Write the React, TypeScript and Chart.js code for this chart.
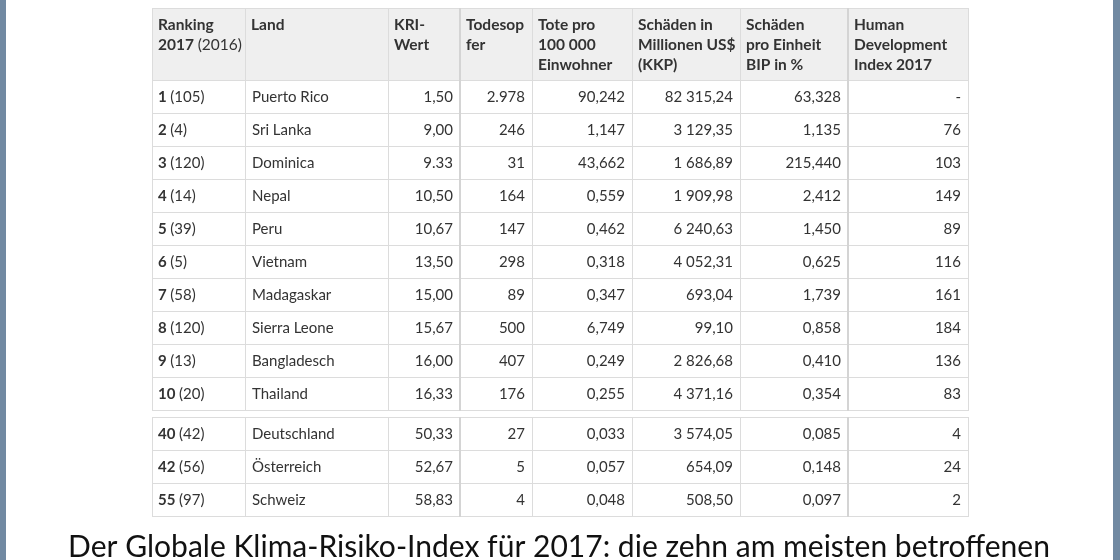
import React, { useEffect, useRef } from "react";
import { Chart, registerables } from "chart.js";

Chart.register(...registerables);

// ---------- data ----------
const headerLines: string[][] = [
  ["Ranking", "2017|(2016)"],
  ["Land"],
  ["KRI-", "Wert"],
  ["Todesop", "fer"],
  ["Tote pro", "100 000", "Einwohner"],
  ["Schäden in", "Millionen US$", "(KKP)"],
  ["Schäden", "pro Einheit", "BIP in %"],
  ["Human", "Development", "Index 2017"],
];
const ranks = [1, 2, 3, 4, 5, 6, 7, 8, 9, 10, 40, 42, 55];
const prevRanks = [105, 4, 120, 14, 39, 5, 58, 120, 13, 20, 42, 56, 97];
const countries = [
  "Puerto Rico", "Sri Lanka", "Dominica", "Nepal", "Peru", "Vietnam", "Madagaskar",
  "Sierra Leone", "Bangladesch", "Thailand", "Deutschland", "Österreich", "Schweiz",
];
const kriScore = ["1,50", "9,00", "9.33", "10,50", "10,67", "13,50", "15,00", "15,67", "16,00", "16,33", "50,33", "52,67", "58,83"];
const fatalities = ["2.978", "246", "31", "164", "147", "298", "89", "500", "407", "176", "27", "5", "4"];
const deathsPer100k = ["90,242", "1,147", "43,662", "0,559", "0,462", "0,318", "0,347", "6,749", "0,249", "0,255", "0,033", "0,057", "0,048"];
const lossesMioUSD = [
  "82 315,24", "3 129,35", "1 686,89", "1 909,98", "6 240,63", "4 052,31", "693,04",
  "99,10", "2 826,68", "4 371,16", "3 574,05", "654,09", "508,50",
];
const lossesPerGDP = ["63,328", "1,135", "215,440", "2,412", "1,450", "0,625", "1,739", "0,858", "0,410", "0,354", "0,085", "0,148", "0,097"];
const hdi2017 = ["-", "76", "103", "149", "89", "116", "161", "184", "136", "83", "4", "24", "2"];
const caption = "Der Globale Klima-Risiko-Index für 2017: die zehn am meisten betroffenen";

// ---------- layout (styles) ----------
const colWidths = [93, 143, 72, 72, 100, 108, 108, 120];
const rightAligned = [false, false, true, true, true, true, true, true];
const headerH = 72;
const rowH = 33;
const groupGap = 7;
const firstGroupRows = 10;
const FONT = "Lato, 'Noto Sans', sans-serif";

export default function App() {
  const ref = useRef<HTMLCanvasElement>(null);

  useEffect(() => {
    if (!ref.current) return;
    const colEdges: number[] = [0];
    colWidths.forEach((w) => colEdges.push(colEdges[colEdges.length - 1] + w));
    const total = colEdges[colEdges.length - 1];
    const nRows = ranks.length;
    const rowTop = (i: number) =>
      headerH + i * rowH + (i >= firstGroupRows ? groupGap : 0);
    const yMax = rowTop(nRows - 1) + rowH;

    const tablePlugin = {
      id: "tableDraw",
      afterDraw(chart: any) {
        const ctx: CanvasRenderingContext2D = chart.ctx;
        const xs = chart.scales.x;
        const ys = chart.scales.y;
        const px = (v: number) => Math.round(xs.getPixelForValue(v));
        const py = (v: number) => Math.round(ys.getPixelForValue(v));
        ctx.save();
        // side strips
        ctx.fillStyle = "#7189a2";
        ctx.fillRect(0, 0, 6, chart.height);
        ctx.fillRect(chart.width - 7, 0, 7, chart.height);

        // header background
        ctx.fillStyle = "#efefef";
        ctx.fillRect(px(0), py(0), px(total) - px(0), py(headerH) - py(0));

        // grid
        ctx.strokeStyle = "#dcdcdc";
        ctx.lineWidth = 1;
        const hline = (y: number) => {
          ctx.beginPath();
          ctx.moveTo(px(0), py(y) + 0.5);
          ctx.lineTo(px(total), py(y) + 0.5);
          ctx.stroke();
        };
        const groups = [
          [0, rowTop(firstGroupRows - 1) + rowH],
          [rowTop(firstGroupRows), yMax],
        ];
        hline(0);
        hline(headerH);
        for (let i = 0; i < nRows; i++) {
          if (i !== firstGroupRows) hline(rowTop(i));
          hline(rowTop(i) + rowH);
        }
        hline(rowTop(firstGroupRows));
        groups.forEach(([a, b]) => {
          colEdges.forEach((e, ci) => {
            const thick = ci === 3 || ci === 7;
            ctx.lineWidth = thick ? 2 : 1;
            ctx.strokeStyle = thick ? "#d4d4d4" : "#dcdcdc";
            const x = px(e) + (thick ? 0 : 0.5);
            ctx.beginPath();
            ctx.moveTo(x, py(a));
            ctx.lineTo(x, py(b) + 1);
            ctx.stroke();
          });
        });

        // header text
        ctx.fillStyle = "#333333";
        ctx.textBaseline = "alphabetic";
        ctx.textAlign = "left";
        const hBold = `bold 15.5px ${FONT}`;
        const hReg = `15.5px ${FONT}`;
        const bold = `bold 15px ${FONT}`;
        const reg = `15px ${FONT}`;
        headerLines.forEach((lines, ci) => {
          const x = px(colEdges[ci]) + 6;
          lines.forEach((ln, li) => {
            const y = py(0) + 22 + li * 20;
            if (ln.includes("|")) {
              const [b, r] = ln.split("|");
              ctx.font = hBold;
              ctx.fillText(b, x, y);
              const w = ctx.measureText(b + " ").width;
              ctx.font = hReg;
              ctx.fillText(r, x + w, y);
            } else {
              ctx.font = hBold;
              ctx.fillText(ln, x, y);
            }
          });
        });

        // body
        ctx.textBaseline = "middle";
        const cols = [null, countries, kriScore, fatalities, deathsPer100k, lossesMioUSD, lossesPerGDP, hdi2017];
        for (let i = 0; i < nRows; i++) {
          const yc = (py(rowTop(i)) + py(rowTop(i) + rowH)) / 2 + 1;
          // rank
          let x = px(colEdges[0]) + 6;
          ctx.textAlign = "left";
          ctx.font = bold;
          ctx.fillText(String(ranks[i]), x, yc);
          const w = ctx.measureText(String(ranks[i]) + " ").width;
          ctx.font = reg;
          ctx.fillText(`(${prevRanks[i]})`, x + w, yc);
          for (let ci = 1; ci < cols.length; ci++) {
            const arr = cols[ci] as string[];
            ctx.font = reg;
            if (rightAligned[ci]) {
              ctx.textAlign = "right";
              ctx.fillText(arr[i], px(colEdges[ci + 1]) - 7, yc);
            } else {
              ctx.textAlign = "left";
              ctx.fillText(arr[i], px(colEdges[ci]) + 7, yc);
            }
          }
        }

        // caption
        ctx.fillStyle = "#111111";
        ctx.textAlign = "center";
        ctx.textBaseline = "alphabetic";
        ctx.font = `30px ${FONT}`;
        const cw = ctx.measureText(caption).width;
        const size = 30 * (982 / cw);
        ctx.font = `${size.toFixed(2)}px ${FONT}`;
        ctx.fillText(caption, 559, 557);
        ctx.restore();
      },
    };

    const chart = new Chart(ref.current, {
      type: "scatter",
      data: { datasets: [{ data: [], pointRadius: 0 }] },
      options: {
        animation: false,
        responsive: false,
        layout: { padding: { left: 152, right: 152, top: 8, bottom: 44 } },
        plugins: { legend: { display: false }, tooltip: { enabled: false } },
        scales: {
          x: { type: "linear", min: 0, max: total, display: false },
          y: { type: "linear", min: 0, max: yMax, reverse: true, display: false },
        },
      },
      plugins: [tablePlugin],
    });
    return () => chart.destroy();
  }, []);

  return (
    <div style={{ position: "absolute", left: 0, top: 0, width: 1120, height: 560, background: "#ffffff" }}>
      <canvas ref={ref} width={1120} height={560} style={{ display: "block" }} />
    </div>
  );
}
